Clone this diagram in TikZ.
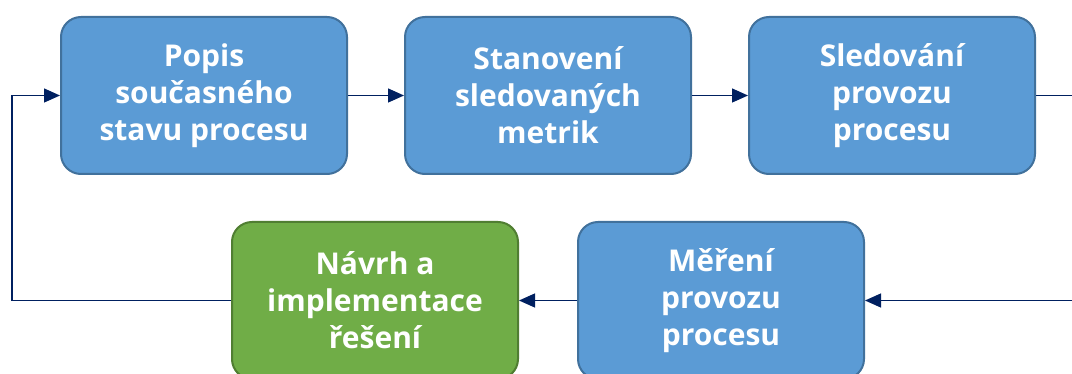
\documentclass[tikz,border=0pt]{standalone}
\usepackage{fontspec}
\setmainfont{Open Sans}
\usetikzlibrary{arrows.meta}
\definecolor{stageblue}{HTML}{5B9BD5}
\definecolor{stageblueedge}{HTML}{41719C}
\definecolor{stagegreen}{HTML}{70AD47}
\definecolor{stagegreenedge}{HTML}{507E32}
\definecolor{flowline}{HTML}{002060}
\tikzset{
  stage/.style={draw=stageblueedge, fill=stageblue, line width=2pt,
    rounded corners=20pt, minimum width=286pt, minimum height=157pt,
    inner sep=0pt, align=center, text=white,
    font=\fontsize{30}{37}\selectfont\bfseries},
  finalstage/.style={stage, draw=stagegreenedge, fill=stagegreen},
  flow/.style={draw=flowline, line width=1.3pt},
  flowarrow/.style={flow, -{Triangle[length=16pt,width=14pt]}},
}
\begin{document}
\begin{tikzpicture}[x=1pt,y=1pt]
  \useasboundingbox (0,0) rectangle (1072,-374);
  \clip (0,0) rectangle (1072,-374);
  \fill[white] (0,0) rectangle (1072,-374);

  % process stages
  \node[stage] (popis) at (204,-95.5) {Popis\\současného\\stavu procesu};
  \node[stage] (metriky) at (548,-95.5) {Stanovení\\sledovaných\\metrik};
  \node[stage] (sledovani) at (892,-95.5) {Sledování\\provozu\\procesu};
  \node[stage] (mereni) at (721,-300.5) {Měření\\provozu\\procesu};
  \node[finalstage] (navrh) at (375,-300.5) {Návrh a\\implementace\\řešení};

  % free ends leaving and entering at the right margin, return path on the left
  \coordinate (outR) at (1080,-95.5);
  \coordinate (inR) at (1080,-300.5);
  \coordinate (back) at (12,-200);

  \draw[flowarrow] (popis) -- (metriky);
  \draw[flowarrow] (metriky) -- (sledovani);
  \draw[flow] (sledovani) -- (outR);
  \draw[flowarrow] (inR) -- (mereni);
  \draw[flowarrow] (mereni) -- (navrh);
  \draw[flowarrow] (navrh.west) -| (back) |- (popis.west);
\end{tikzpicture}
\end{document}
